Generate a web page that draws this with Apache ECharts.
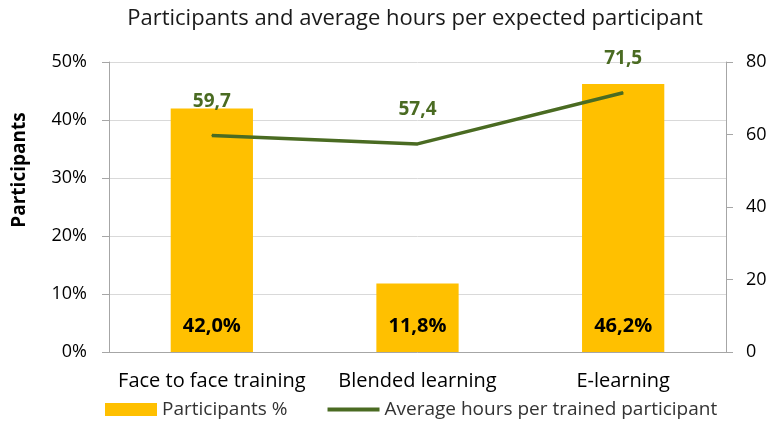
<!DOCTYPE html>
<html>
<head>
<meta charset="utf-8">
<script src="https://cdn.jsdelivr.net/npm/echarts@6/dist/echarts.min.js"></script>
<style>
  html, body { margin: 0; padding: 0; background: #fff; }
  #chart { width: 767px; height: 424px; }
</style>
</head>
<body>
<div id="chart"></div>
<script>
var categories = ['Face to face training', 'Blended learning', 'E-learning']
var participants = [42.0, 11.8, 46.2]
var avgHours = [59.7, 57.4, 71.5]
var leftTicks = [0, 10, 20, 30, 40, 50]
var rightTicks = [0, 20, 40, 60, 80]

var green = '#4a6b22'

var fmt = function (v, d) {
  return v.toFixed(d).replace('.', ',')
}

var chart = echarts.init(document.getElementById('chart'))
chart.setOption({
  animation: false,
  textStyle: { fontFamily: 'Open Sans' },
  title: {
    text: 'Participants and average hours per expected participant',
    left: 410,
    textAlign: 'center',
    top: 3,
    textStyle: { fontFamily: 'Open Sans', fontSize: 22, fontWeight: 'normal', color: '#1a1a1a' }
  },
  grid: { left: 109, right: 41, top: 62, bottom: 72, containLabel: false, outerBoundsMode: 'none' },
  legend: {
    bottom: 0,
    left: 100,
    itemGap: 40,
    itemWidth: 52,
    itemHeight: 13,
    symbolKeepAspect: true,
    textStyle: { fontFamily: 'Open Sans', fontSize: 19, color: '#333' },
    data: [
      { name: 'Participants %', icon: 'rect' },
      {
        name: 'Average hours per trained participant',
        icon: 'path://M0,0 L54,0 L54,4 L0,4 Z',
        itemStyle: { color: green }
      }
    ]
  },
  xAxis: {
    type: 'category',
    data: categories,
    axisLine: { lineStyle: { color: '#a6a6a6', width: 1 } },
    axisTick: { show: false },
    axisLabel: { color: '#000', fontSize: 20, margin: 19, interval: 0 }
  },
  yAxis: [
    {
      type: 'value',
      min: leftTicks[0],
      max: leftTicks[leftTicks.length - 1],
      interval: 10,
      axisLine: { show: true, lineStyle: { color: '#a6a6a6' } },
      axisTick: { show: true, length: 7, lineStyle: { color: '#a6a6a6' } },
      axisLabel: { color: '#000', fontSize: 18, margin: 22, formatter: '{value}%' },
      splitLine: { lineStyle: { color: '#d9d9d9' } }
    },
    {
      type: 'value',
      min: rightTicks[0],
      max: rightTicks[rightTicks.length - 1],
      interval: 20,
      axisLine: { show: true, lineStyle: { color: '#a6a6a6' } },
      axisTick: { show: true, length: 7, lineStyle: { color: '#a6a6a6' } },
      axisLabel: { color: '#000', fontSize: 18, margin: 20 },
      splitLine: { show: false }
    }
  ],
  graphic: [
    {
      type: 'text',
      x: 20,
      y: 170,
      rotation: Math.PI / 2,
      style: {
        text: 'Participants',
        fontFamily: 'Open Sans',
        fontSize: 19,
        fontWeight: 'bold',
        fill: '#000',
        textAlign: 'center',
        textVerticalAlign: 'middle'
      }
    }
  ],
  series: [
    {
      name: 'Participants %',
      type: 'bar',
      barWidth: '40%',
      data: participants,
      itemStyle: { color: '#ffc000' },
      label: {
        show: true,
        position: 'insideBottom',
        distance: 16,
        color: '#000',
        fontSize: 20,
        fontWeight: 'bold',
        formatter: function (p) { return fmt(p.value, 1) + '%' }
      }
    },
    {
      name: 'Average hours per trained participant',
      type: 'line',
      yAxisIndex: 1,
      data: avgHours,
      symbol: 'circle',
      symbolSize: 1,
      showSymbol: true,
      lineStyle: { color: green, width: 3.5 },
      itemStyle: { color: green },
      label: {
        show: true,
        position: 'top',
        distance: 24,
        color: green,
        fontSize: 19,
        fontWeight: 'bold',
        formatter: function (p) { return fmt(p.value, 1) }
      }
    }
  ]
})
</script>
</body>
</html>
